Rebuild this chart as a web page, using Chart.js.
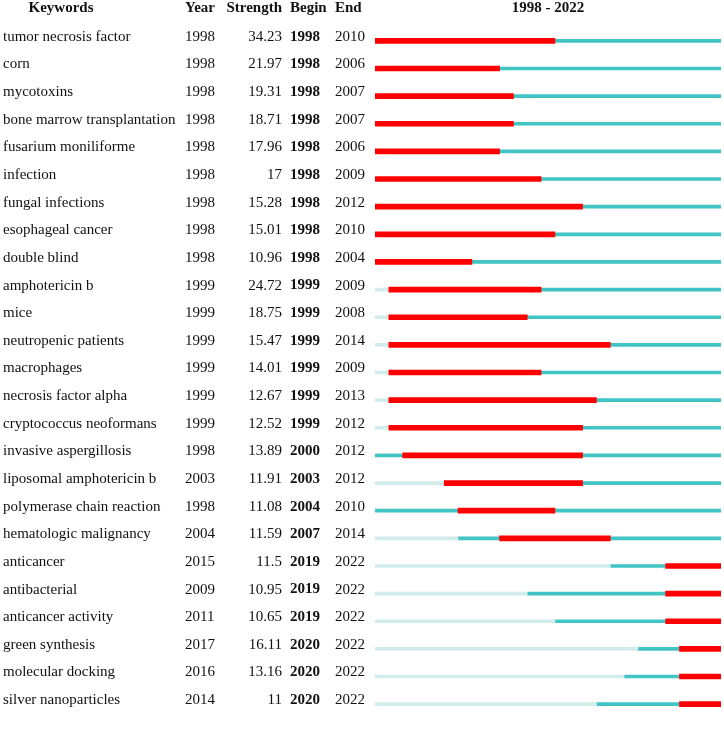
<!DOCTYPE html>
<html>
<head>
<meta charset="utf-8">
<script src="https://cdn.jsdelivr.net/npm/chart.js@4"></script>
<style>
  body { margin: 0; background: #fff; }
  #wrap { width: 724px; height: 737px; }
</style>
</head>
<body>
<div id="wrap"><canvas id="burstChart" width="724" height="737"></canvas></div>
<script>
// datos de la tabla de bursts
const keywords = ['tumor necrosis factor', 'corn', 'mycotoxins', 'bone marrow transplantation',
  'fusarium moniliforme', 'infection', 'fungal infections', 'esophageal cancer', 'double blind',
  'amphotericin b', 'mice', 'neutropenic patients', 'macrophages', 'necrosis factor alpha',
  'cryptococcus neoformans', 'invasive aspergillosis', 'liposomal amphotericin b',
  'polymerase chain reaction', 'hematologic malignancy', 'anticancer', 'antibacterial',
  'anticancer activity', 'green synthesis', 'molecular docking', 'silver nanoparticles'];
const years = [1998, 1998, 1998, 1998, 1998, 1998, 1998, 1998, 1998, 1999, 1999, 1999, 1999,
  1999, 1999, 1998, 2003, 1998, 2004, 2015, 2009, 2011, 2017, 2016, 2014];
const strengths = ['34.23', '21.97', '19.31', '18.71', '17.96', '17', '15.28', '15.01', '10.96',
  '24.72', '18.75', '15.47', '14.01', '12.67', '12.52', '13.89', '11.91', '11.08', '11.59',
  '11.5', '10.95', '10.65', '16.11', '13.16', '11'];
const begins = [1998, 1998, 1998, 1998, 1998, 1998, 1998, 1998, 1998, 1999, 1999, 1999, 1999,
  1999, 1999, 2000, 2003, 2004, 2007, 2019, 2019, 2019, 2020, 2020, 2020];
const ends = [2010, 2006, 2007, 2007, 2006, 2009, 2012, 2010, 2004, 2009, 2008, 2014, 2009,
  2013, 2012, 2012, 2012, 2010, 2014, 2022, 2022, 2022, 2022, 2022, 2022];
const firstYear = 1998;
const lastYear = 2022;

// segmentos de cada fila
const beforeData = years.map(y => y > firstYear ? [firstYear, y] : null);
const activeData = years.map((y, i) => begins[i] > y ? [y, begins[i]] : null);
const burstData = begins.map((b, i) => [b, ends[i] + 1]);
const afterData = ends.map(e => e < lastYear ? [e + 1, lastYear + 1] : null);

const serif = '"Liberation Serif", "Times New Roman", serif';

const tablePlugin = {
  id: 'tablePlugin',
  afterDraw(chart) {
    const ctx = chart.ctx;
    const yScale = chart.scales.y;
    const area = chart.chartArea;
    ctx.save();
    ctx.fillStyle = '#111';
    ctx.textBaseline = 'middle';

    // cabecera
    ctx.font = 'bold 15px ' + serif;
    ctx.textAlign = 'center';
    ctx.fillText('Keywords', 61, 8);
    ctx.fillText(firstYear + ' - ' + lastYear, (area.left + area.right) / 2, 8);
    ctx.textAlign = 'left';
    ctx.fillText('Year', 185, 8);
    ctx.fillText('Begin', 290, 8);
    ctx.fillText('End', 335, 8);
    ctx.textAlign = 'right';
    ctx.fillText('Strength', 282, 8);

    keywords.forEach((k, i) => {
      const y = yScale.getPixelForValue(i) - 4;
      ctx.font = '15px ' + serif;
      ctx.textAlign = 'left';
      ctx.fillText(k, 3, y);
      ctx.fillText(String(years[i]), 185, y);
      ctx.fillText(String(ends[i]), 335, y);
      ctx.textAlign = 'right';
      ctx.fillText(strengths[i], 282, y);
      ctx.font = 'bold 15px ' + serif;
      ctx.textAlign = 'left';
      ctx.fillText(String(begins[i]), 290, y);
    });
    ctx.restore();
  }
};

const ctx = document.getElementById('burstChart').getContext('2d');
new Chart(ctx, {
  type: 'bar',
  data: {
    labels: keywords,
    datasets: [
      { label: 'burst', data: burstData, backgroundColor: '#ff0000', barThickness: 5, grouped: false },
      { label: 'before', data: beforeData, backgroundColor: '#d2ecec', barThickness: 3, grouped: false },
      { label: 'active', data: activeData, backgroundColor: '#40c4c4', barThickness: 3, grouped: false },
      { label: 'after', data: afterData, backgroundColor: '#40c4c4', barThickness: 3, grouped: false }
    ]
  },
  options: {
    indexAxis: 'y',
    responsive: false,
    animation: false,
    layout: { padding: { left: 375, right: 3, top: 27, bottom: 19 } },
    plugins: {
      legend: { display: false },
      tooltip: { enabled: false }
    },
    scales: {
      x: { type: 'linear', min: firstYear, max: lastYear + 1, display: false },
      y: { display: false }
    }
  },
  plugins: [tablePlugin]
});
</script>
</body>
</html>
